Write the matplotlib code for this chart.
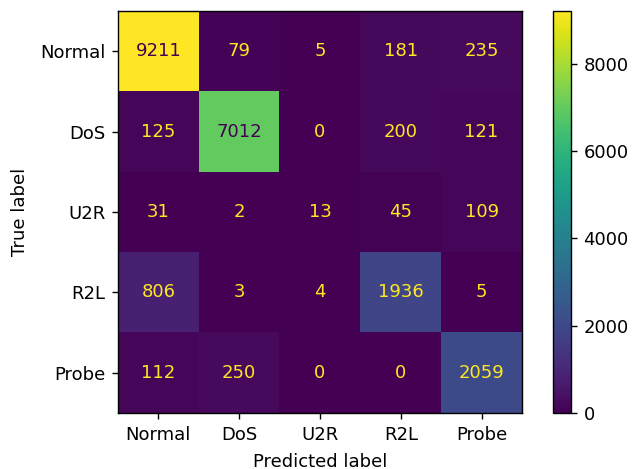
import numpy as np
import matplotlib
matplotlib.use("Agg")
import matplotlib.pyplot as plt

labels = ["Normal", "DoS", "U2R", "R2L", "Probe"]
cm = np.array([
    [9211, 79, 5, 181, 235],
    [125, 7012, 0, 200, 121],
    [31, 2, 13, 45, 109],
    [806, 3, 4, 1936, 5],
    [112, 250, 0, 0, 2059],
])
cbar_ticks = [0, 2000, 4000, 6000, 8000]

plt.rcParams['font.family'] = ['DejaVu Sans']
plt.rcParams['axes.linewidth'] = 1.0
for a in ('xtick', 'ytick'):
    plt.rcParams[f'{a}.major.size'] = 4.5
    plt.rcParams[f'{a}.major.width'] = 1.0
    plt.rcParams[f'{a}.major.pad'] = 4.5
fs = 13

fig = plt.figure(figsize=(6.33, 4.69), dpi=100)
ax = fig.add_axes([0.1864, 0.1194, 0.6382, 0.8571])
cax = fig.add_axes([0.8736, 0.1194, 0.0284, 0.8571])

cmap = plt.get_cmap("viridis")
im = ax.imshow(cm, cmap=cmap, interpolation="nearest", aspect="auto")
vmin, vmax = cm.min(), cm.max()
thresh = (vmax + vmin) / 2.0
for i in range(cm.shape[0]):
    for j in range(cm.shape[1]):
        color = cmap(0) if cm[i, j] >= thresh else cmap(1.0)
        ax.text(j, i, f"{cm[i, j]}", ha="center", va="center", color=color, fontsize=fs)

ax.set_xticks(range(len(labels)))
ax.set_xticklabels(labels, fontsize=fs)
ax.set_yticks(range(len(labels)))
ax.set_yticklabels(labels, fontsize=fs)
ax.set_xlabel("Predicted label", fontsize=fs, labelpad=6.5)
ax.set_ylabel("True label", fontsize=fs, labelpad=8)

cb = fig.colorbar(im, cax=cax)
cb.set_ticks(cbar_ticks)
cb.ax.tick_params(labelsize=fs)
cb.outline.set_linewidth(1.0)

fig.savefig("out.png", dpi=100)
